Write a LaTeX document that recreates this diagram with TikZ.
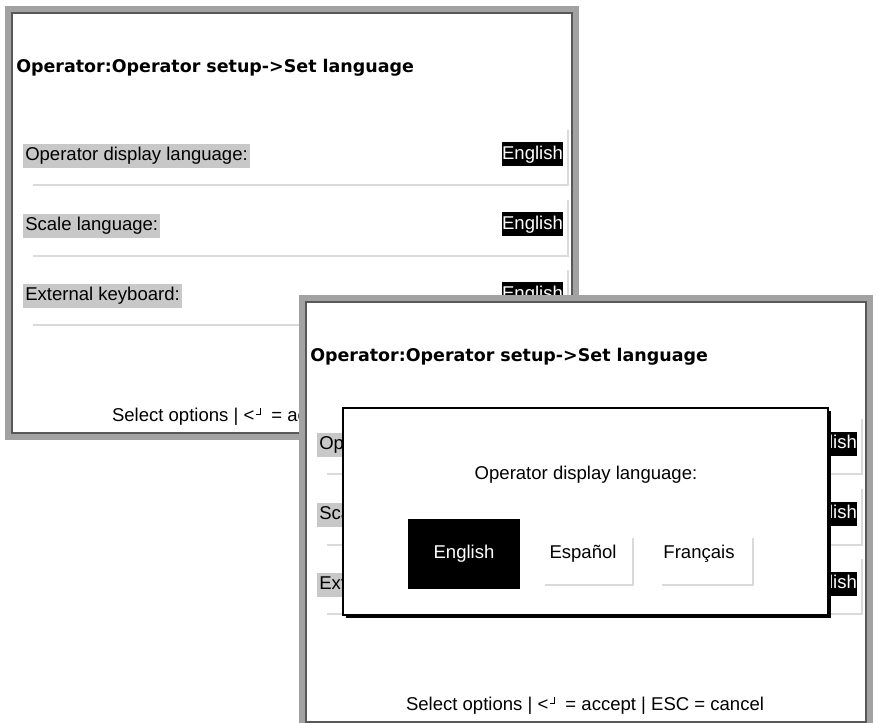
\documentclass[tikz,border=0pt]{standalone}
\usepackage{fontspec}
\setmainfont{Liberation Sans}
\newfontfamily\titlefont{DejaVu Sans}
\usetikzlibrary{positioning}
\definecolor{framegray}{HTML}{A2A2A2}
\definecolor{framedark}{HTML}{585858}
\definecolor{rowgray}{HTML}{C8C8C8}
\definecolor{panelline}{HTML}{DADADA}
\newcommand{\retkey}{<\kern1.2pt\rule[5pt]{3.2pt}{0.7pt}\rule[5pt]{0.7pt}{5.3pt}}
\tikzset{% 
  screen text/.style={%
    inner sep=0pt,
    font=\fontsize{13.9}{16}\selectfont
  }
}
\tikzset{% 
  screen title/.style={%
    inner sep=0pt,
    anchor=west,
    font=\titlefont\bfseries\fontsize{13.1}{16}\selectfont
  }
}
\tikzset{% 
  row label/.style={%
    screen text,
    anchor=west,
    fill=rowgray,
    inner xsep=1.5pt,
    minimum height=18pt
  }
}
\tikzset{% 
  value box/.style={%
    screen text,
    fill=black,
    text=white,
    minimum width=44.25pt,
    minimum height=18pt
  }
}
\tikzset{% 
  panel line/.style={%
    draw=panelline,
    line width=0.9pt
  }
}
\newcommand{\setupscreen}{%
  \fill [framegray] (5,6) rectangle (579,440);
  \fill [white] (12,13) rectangle (572,433);
  \draw [framedark, line width=0.9pt] (12,13) rectangle (572,433);
  \node [screen title] (title) at (16,68) {Operator:Operator setup->Set language};
  % rows
  \draw [panel line] (33,185) -- (568,185) -- (568,130);
  \node [row label] (lang) at (23,156) {Operator display language:};
  \node [value box] (langval) at (532.5,154.5) {English};
  \draw [panel line] (33,256) -- (568,256) -- (568,200);
  \node [row label] (scale) at (23,226) {Scale language:};
  \node [value box] (scaleval) at (532.5,224.5) {English};
  \draw [panel line] (33,325) -- (568,325) -- (568,270);
  \node [row label] (keyb) at (23,296) {External keyboard:};
  \node [value box] (keybval) at (532.5,294.5) {English};
  \node [screen text] (hint) at (291,417) {Select options | \retkey\ \ = accept | ESC = cancel};
}

\begin{document}
\begin{tikzpicture}[x=0.75pt, y=-0.75pt]
  \fill [white] (0,0) rectangle (877,723);
  \useasboundingbox (0,0) rectangle (877,723);
  \begin{scope}[name prefix=back-]
    \setupscreen
  \end{scope}
  \begin{scope}[shift={(294,289)}, name prefix=front-]
    \setupscreen
  \end{scope}
  % dialog
  \fill [black] (346,411) rectangle (831,618);
  \draw [black, line width=1.2pt, fill=white] (343,408) rectangle (828,615);
  \node [screen text] (prompt) at (586,475) {Operator display language:};
  \node [value box, minimum width=84pt, minimum height=52.5pt] (english) at (464,554) {English};
  \node [screen text] (espanol) at (583,554) {Español};
  \draw [panel line] (545,585) -- (633,585) -- (633,538);
  \node [screen text] (francais) at (699,554) {Français};
  \draw [panel line] (662,585) -- (753,585) -- (753,538);
\end{tikzpicture}
\end{document}
